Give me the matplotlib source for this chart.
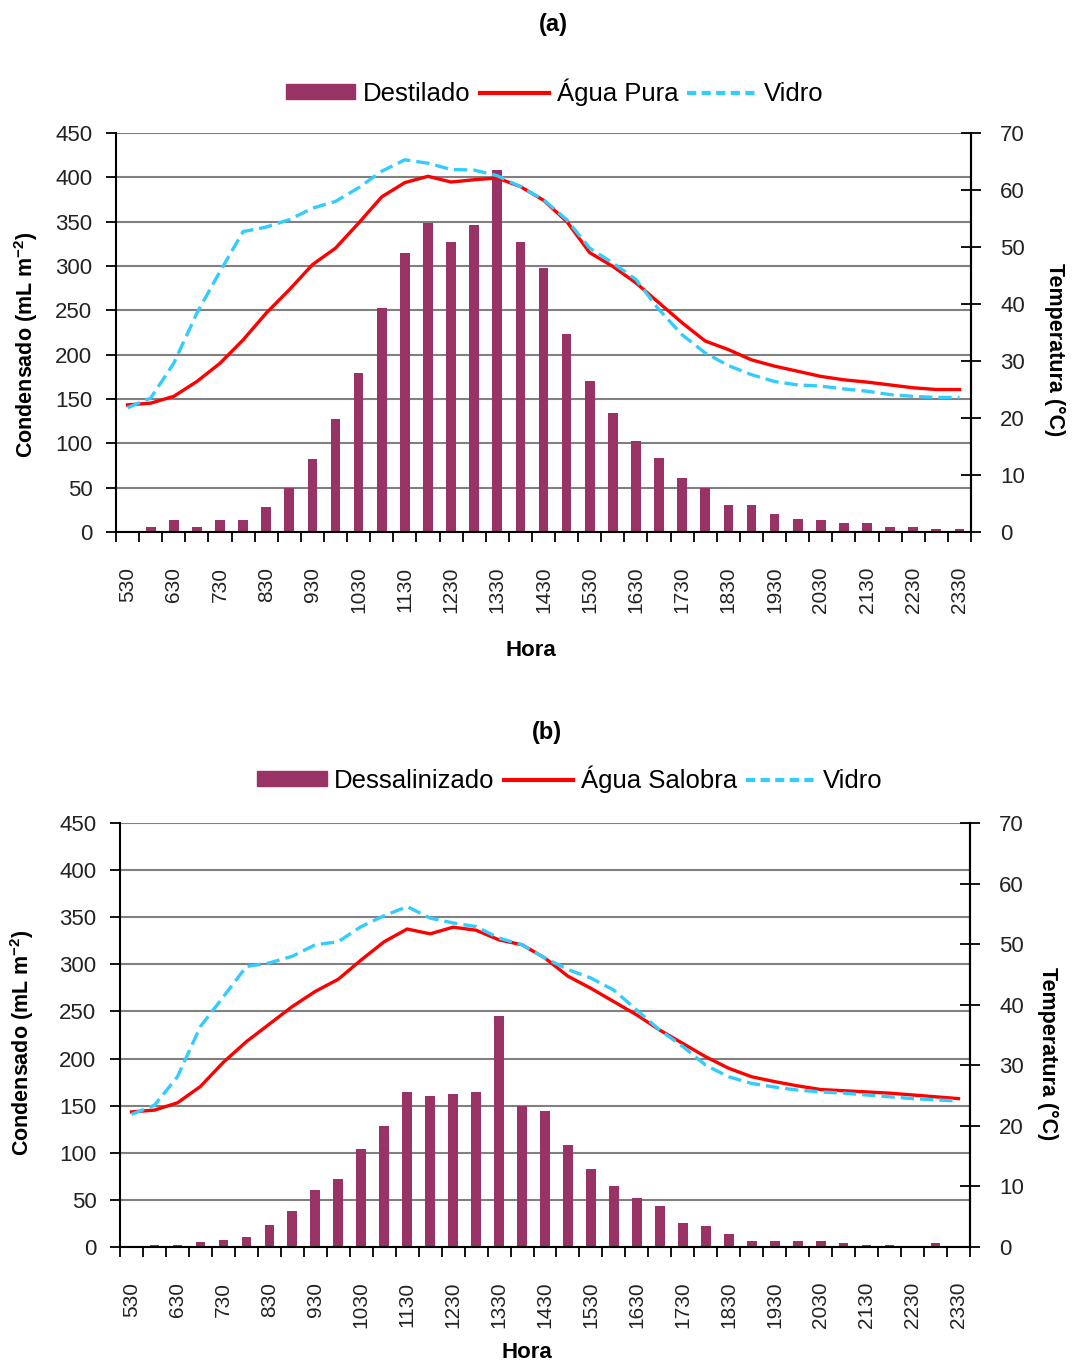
import matplotlib
matplotlib.use("Agg")
import matplotlib.pyplot as plt
import numpy as np
from matplotlib.patches import Patch
from matplotlib.lines import Line2D

plt.rcParams['font.family'] = ['Liberation Sans', 'DejaVu Sans']
plt.rcParams['mathtext.fontset'] = 'custom'
plt.rcParams['mathtext.rm'] = 'Liberation Sans'
plt.rcParams['mathtext.bf'] = 'Liberation Sans:bold'

horas = ['530', '600', '630', '700', '730', '800', '830', '900', '930', '1000',
         '1030', '1100', '1130', '1200', '1230', '1300', '1330', '1400', '1430',
         '1500', '1530', '1600', '1630', '1700', '1730', '1800', '1830', '1900',
         '1930', '2000', '2030', '2100', '2130', '2200', '2230', '2300', '2330']

# Panel (a)
destilado = [0, 6, 13, 6, 13, 13, 28, 50, 82, 127, 179, 253, 315, 349, 327, 346, 408,
             327, 298, 223, 170, 134, 103, 84, 61, 50, 30, 30, 20, 15, 13, 10, 10, 6,
             6, 3, 3]
agua_pura = [22.3, 22.6, 23.8, 26.4, 29.6, 33.7, 38.4, 42.5, 46.9, 49.8, 54.2, 58.8,
             61.3, 62.4, 61.4, 61.8, 62.1, 60.6, 58.2, 54.5, 49.0, 46.6, 43.7, 40.2,
             36.7, 33.5, 32.0, 30.2, 29.1, 28.2, 27.3, 26.7, 26.3, 25.8, 25.3, 25.0,
             25.0]
vidro_a = [21.8, 23.5, 29.6, 38.4, 45.7, 52.7, 53.5, 54.8, 56.8, 58.0, 60.4, 63.3,
           65.3, 64.7, 63.6, 63.5, 62.5, 60.6, 58.3, 54.8, 49.8, 47.2, 44.3, 39.0,
           34.6, 31.4, 29.2, 27.6, 26.4, 25.8, 25.6, 25.1, 24.7, 24.1, 23.8, 23.6,
           23.6]

# Panel (b)
dessalinizado = [0, 2, 2, 5, 7, 11, 23, 38, 61, 72, 104, 128, 164, 160, 162, 164, 245,
                 150, 144, 108, 83, 65, 52, 43, 25, 22, 13.5, 6.5, 6.5, 6.5, 6.5, 4, 2,
                 2, 0, 4, 0]
agua_salobra = [22.3, 22.6, 23.8, 26.5, 30.5, 33.9, 36.8, 39.7, 42.2, 44.2, 47.4, 50.4,
                52.5, 51.7, 52.8, 52.3, 50.7, 49.9, 47.7, 44.7, 42.7, 40.5, 38.3, 35.8,
                33.6, 31.4, 29.5, 28.1, 27.3, 26.6, 26.0, 25.8, 25.6, 25.4, 25.1, 24.8,
                24.5]
vidro_b = [21.9, 23.4, 28.1, 36.4, 41.3, 46.3, 46.9, 48.0, 49.9, 50.4, 52.9, 54.7,
           56.2, 54.3, 53.5, 52.9, 51.0, 49.9, 47.7, 45.8, 44.4, 42.4, 39.1, 35.8,
           33.1, 30.0, 28.1, 27.0, 26.4, 25.9, 25.6, 25.4, 25.1, 24.8, 24.5, 24.3,
           24.1]

BAR = '#993366'
RED = '#FF0000'
BLUE = '#33CCFF'
W, H = 1078, 1367

fig = plt.figure(figsize=(W / 100, H / 100), dpi=100)


def px(x, y):
    return x / W, 1 - y / H


def panel(rect, bars, red, blue):
    l, t, r, b = rect
    ax = fig.add_axes([l / W, 1 - b / H, (r - l) / W, (b - t) / H])
    x = np.arange(len(horas))
    ax.bar(x, bars, width=0.42, color=BAR, zorder=2)
    ax.set_xlim(-0.5, len(horas) - 0.5)
    ax.set_ylim(0, 450)
    ax.set_yticks(np.arange(0, 451, 50))
    ax.yaxis.grid(True, color='#808080', lw=1.5, zorder=0)
    ax.set_axisbelow(True)
    ax.tick_params(axis='y', direction='out', length=7, width=1.3, labelsize=16,
                   pad=10, labelcolor='#222222')
    # x ticks at category boundaries, labels every other category
    ax.set_xticks(np.arange(-0.5, len(horas), 1.0))
    ax.set_xticklabels([])
    ax.set_xticks(x[::2], minor=True)
    ax.set_xticklabels(horas[::2], minor=True, rotation=90, fontsize=15,
                       color='#222222')
    ax.tick_params(axis='x', which='major', direction='out', length=7, width=1.3)
    ax.tick_params(axis='x', which='minor', length=0, pad=25)
    for s in ['left', 'right', 'bottom']:
        ax.spines[s].set_linewidth(1.5)
    ax.spines['top'].set_visible(False)

    ax2 = ax.twinx()
    ax2.plot(x, red, color=RED, lw=2.4, zorder=3)
    ax2.plot(x, blue, color=BLUE, lw=2.4, ls=(0, (4.0, 1.8)), zorder=4)
    ax2.set_ylim(0, 70)
    ax2.set_yticks(np.arange(0, 71, 10))
    ax2.tick_params(axis='y', direction='inout', length=14, width=1.3, labelsize=16,
                    pad=14, labelcolor='#222222')
    ax2.spines['top'].set_visible(False)
    ax2.spines['right'].set_linewidth(1.5)
    ax2.spines['left'].set_visible(False)
    ax2.spines['bottom'].set_visible(False)
    return ax, ax2


def legend(center, labels):
    handles = [Patch(facecolor=BAR, edgecolor=BAR),
               Line2D([], [], color=RED, lw=3),
               Line2D([], [], color=BLUE, lw=3, ls=(0, (2.2, 1.3)))]
    fig.legend(handles, labels, loc='center', bbox_to_anchor=px(*center), ncol=3,
               frameon=False, fontsize=18.5, handlelength=2.7, handleheight=0.5,
               handletextpad=0.3, columnspacing=0.35, borderaxespad=0)


# Panel (a)
panel((116, 133, 971, 532), destilado, agua_pura, vidro_a)
fig.text(*px(553, 25), '(a)', ha='center', va='center', fontsize=17,
         fontweight='bold')
legend((555, 92), ['Destilado', 'Água Pura', 'Vidro'])
fig.text(*px(26, 345), r'Condensado (mL m$^{\mathbf{-2}}$)', rotation=90,
         ha='center', va='center', fontsize=15.5, fontweight='bold')
fig.text(*px(1055, 350), 'Temperatura (°C)', rotation=-90, ha='center',
         va='center', fontsize=15.5, fontweight='bold')
fig.text(*px(531, 651), 'Hora', ha='center', va='center', fontsize=16,
         fontweight='bold')

# Panel (b)
panel((120, 823, 970, 1247), dessalinizado, agua_salobra, vidro_b)
fig.text(*px(547, 733), '(b)', ha='center', va='center', fontsize=17,
         fontweight='bold')
legend((570, 779), ['Dessalinizado', 'Água Salobra', 'Vidro'])
fig.text(*px(22, 1043), r'Condensado (mL m$^{\mathbf{-2}}$)', rotation=90,
         ha='center', va='center', fontsize=15.5, fontweight='bold')
fig.text(*px(1048, 1054), 'Temperatura (°C)', rotation=-90, ha='center',
         va='center', fontsize=15.5, fontweight='bold')
fig.text(*px(527, 1352), 'Hora', ha='center', va='center', fontsize=16,
         fontweight='bold')

fig.savefig('out.png', dpi=100, facecolor='white')
